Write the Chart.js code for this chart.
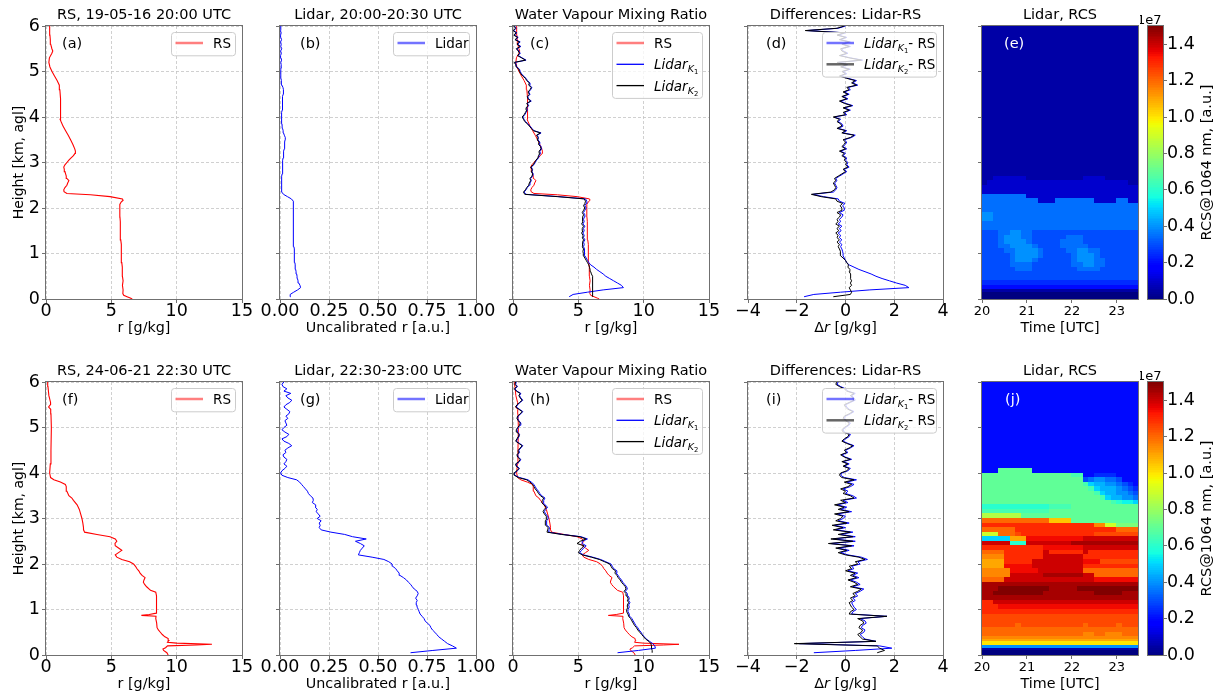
<!DOCTYPE html>
<html><head><meta charset="utf-8">
<script src="https://cdn.jsdelivr.net/npm/chart.js"></script>
<style>
html,body{margin:0;padding:0;background:#fff;}
body{width:1220px;height:700px;position:relative;overflow:hidden;}
canvas{position:absolute;}
</style></head><body>
<script>
// ---------------- DATA ----------------
const LIDAR_H = Array.from({length:120}, (_, i) => Math.round((i + 1) * 5) / 100); // 0.05 .. 6.00 km

// Row 1 (19-05-16)
const RS1_H = [0,0.02,0.05,0.08,0.12,0.2,0.3,0.4,0.5,0.6,0.7,0.8,0.9,1.0,1.1,1.2,1.3,1.4,1.5,1.6,1.7,1.8,1.9,2.0,2.08,2.13,2.17,2.2,2.25,2.29,2.32,2.36,2.4,2.45,2.5,2.55,2.6,2.65,2.7,2.75,2.8,2.85,2.9,2.95,3.0,3.05,3.1,3.15,3.2,3.25,3.3,3.4,3.5,3.6,3.7,3.8,3.9,3.95,4.0,4.2,4.4,4.6,4.7,4.8,4.9,5.0,5.1,5.2,5.3,5.4,5.45,5.5,5.6,5.7,5.8,5.9,6.0];
const RS1_R = [6.6,6.45,6.2,5.95,5.88,5.9,5.85,5.9,5.85,5.86,5.82,5.8,5.78,5.76,5.78,5.74,5.72,5.7,5.7,5.68,5.67,5.66,5.65,5.64,5.66,5.75,5.9,5.85,4.9,3.4,1.6,1.38,1.36,1.45,1.6,1.66,1.75,1.6,1.55,1.5,1.45,1.4,1.36,1.45,1.6,1.75,1.92,2.1,2.22,2.25,2.2,2.05,1.88,1.7,1.5,1.3,1.15,1.08,1.12,1.1,1.12,1.06,1.02,0.85,0.65,0.46,0.3,0.22,0.26,0.45,0.52,0.45,0.36,0.33,0.3,0.28,0.28];
const LIDAR1_UNCAL = [
0.055,0.052,0.070,0.090,0.105,0.102,0.096,0.092,0.089,0.087,
0.085,0.082,0.080,0.078,0.077,0.076,0.075,0.074,0.073,0.073,
0.072,0.072,0.071,0.071,0.070,0.070,0.069,0.069,0.068,0.068,
0.068,0.067,0.067,0.067,0.067,0.067,0.067,0.067,0.068,0.068,
0.068,0.069,0.068,0.058,0.038,0.018,0.009,0.007,0.007,0.008,
0.008,0.009,0.010,0.010,0.011,0.012,0.012,0.013,0.014,0.014,
0.015,0.016,0.017,0.018,0.020,0.022,0.022,0.024,0.025,0.026,
0.027,0.022,0.018,0.016,0.013,0.011,0.010,0.008,0.007,0.007,
0.009,0.010,0.011,0.011,0.012,0.012,0.013,0.014,0.015,0.016,
0.017,0.018,0.015,0.010,0.008,0.006,0.005,0.004,0.004,0.003,
0.005,0.007,0.006,0.004,0.008,0.005,0.003,0.007,0.003,0.009,
0.004,0.006,0.003,0.008,0.004,0.003,0.006,0.002,0.005,0.003];
const LIDAR1_K1 = [
4.3,4.6,5.7,6.9,8.45,8.3,8.0,7.7,7.4,7.1,
6.9,6.65,6.4,6.2,5.95,5.8,5.7,5.6,5.5,5.47,
5.45,5.5,5.4,5.45,5.4,5.5,5.4,5.45,5.35,5.45,
5.4,5.5,5.35,5.45,5.4,5.45,5.5,5.4,5.5,5.6,
5.5,5.6,5.65,5.55,3.5,1.0,0.85,1.0,1.1,1.25,
1.3,1.4,1.35,1.5,1.55,1.45,1.5,1.4,1.6,1.7,
1.8,1.95,2.0,2.1,2.05,2.2,2.15,2.0,2.05,1.9,
1.95,1.85,2.15,1.6,1.45,1.3,1.15,0.95,0.85,0.75,
0.9,1.0,1.1,1.05,1.2,1.1,1.4,1.2,1.15,1.3,
1.2,1.35,1.45,1.25,1.3,1.1,1.0,0.8,0.65,0.55,
0.5,0.3,0.25,0.15,1.0,0.7,0.4,0.55,0.45,0.3,
0.6,0.35,0.55,0.2,0.4,0.1,0.3,0.05,0.25,0.1];
const LIDAR1_K2 = [
6.1,6.1,6.1,6.1,6.1,6.1,6.1,6.1,6.08,6.05,
6.0,5.95,5.9,5.85,5.8,5.7,5.6,5.5,5.4,5.38,
5.35,5.4,5.3,5.35,5.3,5.4,5.3,5.35,5.25,5.35,
5.3,5.4,5.25,5.35,5.3,5.35,5.4,5.3,5.4,5.5,
5.4,5.5,5.55,5.45,3.4,0.9,0.8,0.95,1.05,1.2,
1.25,1.35,1.3,1.45,1.5,1.4,1.45,1.35,1.55,1.65,
1.75,1.9,1.95,2.05,2.0,2.15,2.1,1.95,2.0,1.85,
1.9,1.8,2.1,1.55,1.4,1.25,1.1,0.9,0.8,0.7,
0.85,0.95,1.05,1.0,1.15,1.05,1.35,1.15,1.1,1.25,
1.15,1.3,1.4,1.2,1.25,1.05,0.95,0.75,0.6,0.5,
0.45,0.25,0.2,0.1,0.95,0.65,0.35,0.5,0.4,0.25,
0.55,0.3,0.5,0.15,0.35,0.05,0.25,0.0,0.2,0.05];
const DIFF1_K1 = [
-1.7,-1.3,-0.2,1.0,2.6,2.45,2.1,1.8,1.5,1.25,
1.05,0.8,0.55,0.35,0.15,0.05,0.0,-0.05,-0.1,-0.1,
-0.12,-0.15,-0.2,-0.15,-0.25,-0.15,-0.25,-0.2,-0.3,-0.18,
-0.25,-0.15,-0.3,-0.2,-0.25,-0.15,-0.1,-0.25,-0.05,-0.05,
-0.12,-0.02,-0.25,-0.3,-0.9,-1.35,-0.5,-0.4,-0.35,-0.4,
-0.45,-0.35,-0.4,-0.25,-0.1,0.05,-0.05,0.15,0.05,0.1,
0.0,0.05,-0.1,0.0,-0.2,0.05,-0.1,0.0,0.05,-0.05,
0.25,0.4,-0.1,0.05,-0.3,-0.1,-0.15,-0.3,-0.2,-0.45,
0.05,-0.05,0.2,-0.05,0.3,0.0,-0.2,0.1,-0.1,0.15,
-0.05,0.2,0.1,0.5,0.3,0.45,0.1,-0.2,0.05,-0.1,
0.2,-0.15,0.1,-0.3,0.7,0.2,-0.2,0.1,-0.1,-0.15,
0.2,-0.1,0.2,-0.2,0.05,-0.3,0.0,-1.6,-0.3,0.0];
const DIFF1_K2 = [
-0.5,0.2,0.25,0.2,0.15,0.25,0.2,0.25,0.2,0.2,
0.22,0.15,0.18,0.1,0.12,0.05,0.0,-0.1,-0.2,-0.2,
-0.22,-0.25,-0.3,-0.25,-0.35,-0.25,-0.35,-0.3,-0.4,-0.28,
-0.35,-0.25,-0.4,-0.3,-0.35,-0.25,-0.2,-0.35,-0.15,-0.15,
-0.22,-0.12,-0.35,-0.4,-1.0,-1.4,-0.6,-0.45,-0.4,-0.45,
-0.5,-0.4,-0.45,-0.3,-0.15,0.0,-0.1,0.1,0.0,0.05,
-0.05,0.0,-0.15,-0.05,-0.25,0.0,-0.15,-0.05,0.0,-0.1,
0.2,0.35,-0.15,0.0,-0.35,-0.15,-0.2,-0.35,-0.25,-0.5,
0.0,-0.1,0.15,-0.1,0.25,-0.05,-0.25,0.05,-0.15,0.1,
-0.1,0.15,0.05,0.45,0.25,0.4,0.05,-0.25,0.0,-0.15,
0.15,-0.2,0.05,-0.35,0.65,0.15,-0.25,0.05,-0.15,-0.2,
0.15,-0.15,0.15,-0.25,0.0,-0.35,-0.05,-1.65,-0.35,-0.05];

// Row 2 (24-06-21)
const RS2_H = [0,0.05,0.1,0.13,0.16,0.2,0.22,0.235,0.26,0.28,0.32,0.36,0.4,0.45,0.5,0.55,0.6,0.7,0.8,0.85,0.87,0.89,0.92,1.0,1.1,1.2,1.3,1.38,1.42,1.5,1.55,1.6,1.65,1.7,1.75,1.8,1.85,1.9,1.95,2.0,2.05,2.1,2.15,2.2,2.25,2.3,2.35,2.4,2.45,2.5,2.55,2.6,2.65,2.7,2.75,2.8,2.9,3.0,3.1,3.2,3.3,3.4,3.45,3.5,3.6,3.7,3.75,3.8,3.85,3.9,4.0,4.2,4.5,5.0,5.3,5.4,5.45,5.5,5.55,5.7,5.9,6.0];
const RS2_R = [9.35,9.25,9.0,8.95,9.15,9.3,11.5,12.7,10.0,9.3,9.4,9.35,9.1,8.9,8.75,8.6,8.5,8.47,8.4,8.42,7.3,7.9,8.45,8.45,8.45,8.48,8.45,8.4,8.0,7.7,7.55,7.45,7.5,7.58,7.35,7.2,7.1,6.95,6.85,6.7,6.4,5.8,5.42,5.3,5.55,5.8,5.55,5.3,5.28,5.42,5.3,4.9,3.9,2.95,2.88,2.87,2.82,2.75,2.65,2.55,2.38,2.1,1.98,1.75,1.6,1.55,1.48,1.1,0.6,0.35,0.28,0.33,0.38,0.41,0.38,0.36,0.2,0.33,0.35,0.22,0.15,0.13];
const LIDAR2_UNCAL = [
0.666,0.78,0.90,0.88,0.855,0.84,0.825,0.81,0.80,0.79,
0.778,0.77,0.765,0.752,0.74,0.735,0.725,0.715,0.71,0.706,
0.70,0.698,0.695,0.70,0.692,0.70,0.705,0.70,0.685,0.675,
0.667,0.655,0.645,0.63,0.612,0.608,0.598,0.59,0.575,0.572,
0.555,0.53,0.47,0.40,0.405,0.41,0.42,0.43,0.41,0.385,
0.44,0.37,0.33,0.26,0.21,0.20,0.205,0.20,0.21,0.19,
0.205,0.195,0.185,0.19,0.18,0.182,0.165,0.17,0.168,0.155,
0.145,0.14,0.13,0.12,0.11,0.10,0.085,0.04,0.01,0.003,
0.01,0.025,0.035,0.02,0.03,0.035,0.02,0.015,0.03,0.025,
0.04,0.06,0.045,0.02,0.01,0.035,0.045,0.025,0.01,0.02,
0.035,0.03,0.025,0.04,0.03,0.045,0.05,0.035,0.02,0.03,
0.05,0.06,0.04,0.03,0.055,0.02,0.035,0.015,0.01,0.02];
const LIDAR2_K1 = [
8.0,9.6,10.9,10.85,10.7,10.45,10.2,10.05,9.9,9.8,
9.65,9.55,9.4,9.3,9.2,9.1,8.95,8.9,8.8,8.8,
8.9,8.85,8.95,8.85,8.9,8.8,8.75,8.6,8.75,8.7,
8.55,8.4,8.3,8.15,8.05,7.9,7.95,7.7,7.6,7.5,
7.1,6.7,6.1,5.4,5.1,5.25,5.4,5.6,5.3,5.3,
5.7,5.2,3.8,2.7,2.75,2.8,2.6,2.55,2.6,2.7,
2.65,2.5,2.4,2.5,2.65,2.45,2.3,2.35,2.45,2.2,
2.05,1.95,1.8,1.7,1.6,1.4,1.15,0.5,0.15,0.12,
0.35,0.5,0.3,0.25,0.5,0.6,0.4,0.35,0.5,0.45,
0.6,0.75,0.5,0.25,0.35,0.45,0.5,0.35,0.3,0.4,
0.55,0.6,0.45,0.35,0.4,0.6,0.75,0.5,0.25,0.35,
0.55,0.75,0.6,0.5,0.6,0.3,0.15,0.35,0.2,0.25];
const LIDAR2_K2 = [
10.65,10.65,10.6,10.6,10.55,10.4,10.15,10.0,9.85,9.7,
9.55,9.45,9.3,9.2,9.1,9.0,8.85,8.8,8.7,8.7,
8.8,8.75,8.85,8.75,8.8,8.7,8.65,8.5,8.65,8.6,
8.45,8.3,8.2,8.05,7.95,7.8,7.85,7.6,7.5,7.4,
7.0,6.6,6.0,5.3,5.0,5.1,5.25,5.45,4.9,5.15,
5.6,5.1,3.7,2.6,2.65,2.7,2.5,2.45,2.5,2.6,
2.55,2.4,2.3,2.4,2.55,2.35,2.2,2.25,2.35,2.1,
1.95,1.85,1.7,1.6,1.5,1.3,1.05,0.4,0.1,0.08,
0.3,0.45,0.25,0.2,0.45,0.55,0.35,0.3,0.45,0.4,
0.55,0.7,0.45,0.2,0.3,0.4,0.45,0.3,0.25,0.35,
0.5,0.55,0.4,0.3,0.35,0.55,0.7,0.45,0.2,0.3,
0.5,0.7,0.55,0.45,0.55,0.25,0.1,0.3,0.15,0.2];
const DIFF2_K1 = [
-1.3,0.4,1.9,1.4,-1.9,1.25,0.8,0.7,0.6,0.75,
0.8,0.65,0.7,0.85,0.8,0.6,1.7,0.25,0.3,0.45,
0.35,0.3,0.25,0.4,0.3,0.5,0.4,0.6,0.75,0.3,
0.6,0.45,0.2,0.55,0.3,0.5,0.1,0.35,0.25,0.6,
0.5,0.9,0.65,0.1,-0.2,0.15,-0.3,0.35,-0.6,0.4,
-0.5,0.4,-0.2,0.3,-0.4,0.0,-0.45,0.15,-0.3,-0.1,
0.0,-0.35,0.25,-0.2,0.05,-0.35,0.1,-0.1,0.45,0.3,
0.0,0.1,-0.1,0.2,0.35,0.05,0.45,-0.05,-0.2,-0.15,
0.1,0.2,-0.05,0.15,-0.1,0.25,0.0,-0.15,0.1,0.0,
0.2,0.35,0.1,-0.1,0.0,0.15,0.2,-0.05,-0.1,0.0,
0.15,0.2,0.05,-0.05,0.0,0.2,0.35,0.15,0.05,0.0,
0.2,0.4,0.35,0.25,0.4,0.1,0.0,-0.2,-0.35,-0.3];
const DIFF2_K2 = [
1.3,1.6,1.4,1.3,-2.1,1.25,0.7,0.6,0.5,0.65,
0.7,0.55,0.6,0.75,0.7,0.5,1.7,0.15,0.2,0.35,
0.25,0.2,0.15,0.3,0.2,0.4,0.3,0.5,0.65,0.2,
0.5,0.35,0.1,0.45,0.2,0.4,0.0,0.25,0.15,0.5,
0.4,0.8,0.55,0.0,-0.3,0.05,-0.4,0.25,-0.7,0.3,
-0.6,0.3,-0.3,0.2,-0.5,-0.1,-0.55,0.05,-0.4,-0.2,
-0.1,-0.45,0.15,-0.3,-0.05,-0.45,0.0,-0.2,0.35,0.2,
-0.1,0.0,-0.2,0.1,0.25,-0.05,0.35,-0.15,-0.25,-0.2,
0.05,0.15,-0.1,0.1,-0.15,0.2,-0.05,-0.2,0.05,-0.05,
0.15,0.3,0.05,-0.15,-0.05,0.1,0.15,-0.1,-0.15,-0.05,
0.1,0.15,0.0,-0.1,-0.05,0.15,0.3,0.1,0.0,-0.05,
0.15,0.35,0.3,0.2,0.35,0.05,-0.05,-0.25,-0.4,-0.35];

// Heatmaps: RCS in units of 0.05e7 per character (base-36 digit), rows listed top (5.9-6.0 km) to bottom (0-0.1 km)
const TIME_EDGES = [20,20.125,20.25,20.375,20.5,20.625,20.75,20.875,21,21.125,21.25,21.375,21.5,21.625,21.75,21.875,22,22.125,22.25,22.375,22.5,22.625,22.75,22.875,23,23.125,23.25,23.375,23.5];
const H_EDGES = [0,0.1,0.15,0.2,0.25,0.3,0.35,0.4,0.5,0.6,0.7,0.8,0.9,1.0,1.1,1.2,1.3,1.4,1.5,1.6,1.7,1.8,1.9,2.0,2.1,2.2,2.3,2.4,2.5,2.6,2.7,2.8,2.9,3.0,3.1,3.2,3.3,3.4,3.5,3.6,3.7,3.8,3.9,4.0,4.1,4.2,4.3,4.4,4.5,4.6,4.7,4.8,4.9,5.0,5.1,5.2,5.3,5.4,5.5,5.6,5.7,5.8,5.9,6.0];
const RCS_E_ROWS = [
"1111111111111111111111111111","1111111111111111111111111111","1111111111111111111111111111",
"1111111111111111111111111111","1111111111111111111111111111","1111111111111111111111111111",
"1111111111111111111111111111","1111111111111111111111111111","1111111111111111111111111111",
"1111111111111111111111111111","1111111111111111111111111111","1111111111111111111111111111",
"1111111111111111111111111111","1111111111111111111111111111","1111111111111111111111111111",
"1111111111111111111111111111","1111111111111111111111111111","1111111111111111111111111111",
"1111111111111111111111111111","1111111111111111111111111111","1111111111111111111111111111",
"1111111111111111111111111111","1111111111111111111111111111","1111111111111111111111111111",
"1111111111111111111111111111","1111111111111111111111111111","1111111111111111111111111111",
"1111111111111111111111111111","1111111111111111111111111111","1111111111111111111111111111",
"1111111111111111111111111111","1111111111111111111111111111","1111111111111111111111111111",
"1122222211111111112222111111","1222222222222222222222222211","2222222222222222222222222222",
"2222222222222222222222222222",
"7777777722222222222222222222",
"7777777777222777777722227722",
"7777777777777777777777777777",
"7777777777777777777777777777",
"8877777777777777777777777777",
"8877777777777777777777777777",
"7777777777777777777777777777",
"7777777777777777777777777777",
"6667788776666666666666666666",
"6667888776666667776666666666",
"6667888876666677776666666666",
"6667788887666677777666666666",
"6666778888766667788776666666",
"6666678888766666788876666666",
"6666678887666666788877666666",
"6666677776666666778877666666",
"6666667776666666677776666666",
"6666666666666666666666666666",
"6666666666666666666666666666",
"5555555555555555555555555555",
"5555555555555555555555555555",
"4444444444444444444444444444",
"4444444444444444444444444444",
"1111111111111111111111111111",
"0000000000000000000000000000",
"0000000000000000000000000000"];
const RCS_J_ROWS = [
"4444444444444444444444444444","4444444444444444444444444444","4444444444444444444444444444",
"4444444444444444444444444444","4444444444444444444444444444","4444444444444444444444444444",
"4444444444444444444444444444","4444444444444444444444444444","4444444444444444444444444444",
"4444444444444444444444444444","4444444444444444444444444444","4444444444444444444444444444",
"4444444444444444444444444444","4444444444444444444444444444","4444444444444444444444444444",
"4444444444444444444444444444","4444444444444444444444444444","4444444444444444444444444444",
"4444444444444444444444444444",
"444eeeeee4444444444444444444",
"eeeeeeeeeeeeeeeedd4455554444",
"eeeeeeeeeeeeeeeeee6788776444",
"eeeeeeeeeeeeeeeeeeda99887654",
"eeeeeeeeeeeeeeeeeeeda9998765",
"eeeeeeeeeeeeeeeeeeeeda998876",
"eeeeeeeeeeeeeeeeeeeeeda99887",
"eeeeeeeeeeeeeeeeeeeeeeedcbba",
"ccccccccccccddddeeeeeeeeeeee",
"ddddddddddddeeeeeeeeeeeeeeee",
"hhhhhhheeeeeeeeeeeeeeeeeeeee",
"oooooooooooolllleeeeeeeeeeee",
"qqqqqqqqqqqqqqqqqqqqnniiffff",
"ooooooqqqqqqqqqqqqqqqqqqoooo",
"iiiooopqqqqqqqqqqqqqpppppppp",
"aaaaammmrrrrrrrrrrssssssssss",
"ssssscccsssssssstttttttttttt",
"qqqqqqqqqqqrrrrrrrssssssssss",
"ooooqqqqqqqsqqqqqqsqqqqqqqqq",
"nnnnqqqqqqqsssssssqqqqqqqqqq",
"mmmmqqqqqsssssssssrrrppppppp",
"mmmmrrrrrsssssssssqqqqqqqqqq",
"nnnnnrrrrrssssssssoooooooooo",
"nnnnnsssssstttttttssoooooooo",
"oooossssssssssssssssrrrrrrrr",
"tttttttttttttttttttttttttttt",
"tttuuuuuuuuutttttuuuuuuuuuuu",
"ttuuuuuuuuutttttttttuuuuuttt",
"tttttttttttttttttttttttttttt",
"qqssssssssssssssssssssssssss",
"qqqrrrrrrrrrrrrrrrrrrrrrrrrr",
"qqqqqqqqqqqqqqqqqqqqqqqqqqqq",
"pppppppppppppppppppppppppppp",
"pppppppppppppppppppppppppppp",
"ppppppopppppppppppopppppoppp",
"oooooooooooooooooooooooooooo",
"oooooooooooooooooonnoonnnooo",
"nnnnnnnnnnnnnnnnnnnnnnnnnnnn",
"mmmmmmmmmmmmmmmmmmmmmmmmmmmm",
"kkkkkkkkkkkkkkkkkkkkkkkkkkkk",
"kkkkkkkkkkkkkkkkkkkkkkkkkkkk",
"8888888888888888888888888888",
"1111111111111111111111111111",
"0000000000000000000000000000"];

// Tick values
const H_TICKS = [0,1,2,3,4,5,6];
const R_TICKS = [0,5,10,15];
const U_TICKS = [0,0.25,0.5,0.75,1.0];
const D_TICKS = [-4,-2,0,2,4];
const T_TICKS = [20,21,22,23];
const CB_TICKS = [0,0.2,0.4,0.6,0.8,1.0,1.2,1.4];

// ---------------- STYLE / HELPERS ----------------
const FONT = 'DejaVu Sans';
const GRID_COLOR = '#c4c4c4';
const AXIS_COLOR = '#707070';
const XAX_H = 38;
Chart.defaults.font.family = FONT;

function interp(pts, t){
  for (let i = 1; i < pts.length; i++) {
    if (t <= pts[i][0]) { const [t0,v0] = pts[i-1], [t1,v1] = pts[i]; return v0 + (v1-v0)*(t-t0)/(t1-t0); }
  }
  return pts[pts.length-1][1];
}
const JET_R=[[0,0],[0.35,0],[0.66,1],[0.89,1],[1,0.5]];
const JET_G=[[0,0],[0.125,0],[0.375,1],[0.64,1],[0.91,0],[1,0]];
const JET_B=[[0,0.5],[0.11,1],[0.34,1],[0.65,0],[1,0]];
function jet(t){
  t = Math.max(0, Math.min(1, t));
  return `rgb(${Math.round(interp(JET_R,t)*255)},${Math.round(interp(JET_G,t)*255)},${Math.round(interp(JET_B,t)*255)})`;
}
const NCOL = TIME_EDGES.length - 1;
const decodeRows = rows => rows.map(s => Array.from(s.padEnd(NCOL, s[s.length-1]).slice(0, NCOL), ch => parseInt(ch, 36) * 0.05));
const RCS_E = decodeRows(RCS_E_ROWS);
const RCS_J = decodeRows(RCS_J_ROWS);
const CB_MAX = 1.5;

const fmtInt = v => String(v);
const fmt2 = v => v.toFixed(2);
const fmtMinus = v => v < 0 ? '\u2212' + Math.abs(v) : String(v);

function lineDs(xs, hs, color, width, order){
  return {data: xs.map((v,i) => ({x: v, y: hs[i]})), borderColor: color, backgroundColor: color,
          borderWidth: width, pointRadius: 0, tension: 0, fill: false, order: order};
}

function drawRich(ctx, x, base, it){
  ctx.fillStyle = '#000';
  ctx.textBaseline = 'alphabetic';
  ctx.textAlign = 'left';
  if (it.math) {
    ctx.font = `italic 13.5px "${FONT}"`; ctx.fillText('Lidar', x, base); x += ctx.measureText('Lidar').width;
    ctx.font = `italic 9.5px "${FONT}"`; ctx.fillText('K', x, base + 3); x += ctx.measureText('K').width;
    ctx.font = `6.8px "${FONT}"`; ctx.fillText(it.math, x, base + 5); x += ctx.measureText(it.math).width;
    if (it.suffix) { ctx.font = `13.5px "${FONT}"`; ctx.fillText(it.suffix, x, base); }
  } else {
    ctx.font = `13.5px "${FONT}"`; ctx.fillText(it.text, x, base);
  }
}

function drawLegend(ctx, a, L){
  const n = L.items.length;
  const right = a.right - 7, top = a.top + 6, h = 2 + 21.3*n, left = right - L.w;
  ctx.save();
  ctx.beginPath();
  if (ctx.roundRect) ctx.roundRect(left + 0.5, top + 0.5, L.w, h, 3); else ctx.rect(left + 0.5, top + 0.5, L.w, h);
  ctx.fillStyle = 'rgba(255,255,255,0.8)'; ctx.fill();
  ctx.strokeStyle = '#cccccc'; ctx.lineWidth = 1; ctx.stroke();
  L.items.forEach((it, i) => {
    const cy = top + 11 + 21.3*i;
    ctx.beginPath(); ctx.strokeStyle = it.color; ctx.lineWidth = it.lw;
    ctx.moveTo(left + 4.5, cy); ctx.lineTo(left + 32, cy); ctx.stroke();
    drawRich(ctx, left + 42, cy + 5, it);
  });
  ctx.restore();
}

function drawHeat(chart, grid){
  const {ctx, chartArea: a, scales: {x, y}} = chart;
  ctx.save(); ctx.beginPath(); ctx.rect(a.left, a.top, a.width, a.height); ctx.clip();
  const nR = grid.length;
  for (let r = 0; r < nR; r++) {
    const hi = nR - 1 - r;
    const yb = y.getPixelForValue(H_EDGES[hi]), yt = y.getPixelForValue(H_EDGES[hi+1]);
    for (let c = 0; c < NCOL; c++) {
      const x0 = x.getPixelForValue(TIME_EDGES[c]), x1 = x.getPixelForValue(TIME_EDGES[c+1]);
      ctx.fillStyle = jet(grid[r][c] / CB_MAX);
      ctx.fillRect(Math.floor(x0), Math.floor(yt), Math.ceil(x1) - Math.floor(x0), Math.ceil(yb) - Math.floor(yt));
    }
  }
  ctx.restore();
}

const ROW_TOP = [0, 356];
const CANVAS_H = 26 + 273 + XAX_H;

function addCanvas(left, top, w, h){
  const c = document.createElement('canvas');
  c.width = w; c.height = h;
  c.style.left = left + 'px'; c.style.top = top + 'px';
  c.style.width = w + 'px'; c.style.height = h + 'px';
  document.body.appendChild(c);
  return c;
}

function makePanel(o){
  const width = o.yW + o.plotW + o.padR;
  const c = addCanvas(o.left, o.top, width, CANVAS_H);
  const deco = {
    id: 'deco',
    beforeDatasetsDraw(chart){ if (o.heat) drawHeat(chart, o.heat); },
    afterDatasetsDraw(chart){
      const {ctx, chartArea: a} = chart;
      ctx.save();
      ctx.strokeStyle = AXIS_COLOR; ctx.lineWidth = 1;
      ctx.strokeRect(a.left - 0.5, a.top - 0.5, a.width + 1, a.height + 1);
      if (o.legend) drawLegend(ctx, a, o.legend);
      ctx.fillStyle = o.letterColor || '#000';
      ctx.font = `14.5px "${FONT}"`; ctx.textBaseline = 'middle'; ctx.textAlign = 'left';
      ctx.fillText(o.letter, a.left + o.lx, a.top + 18);
      if (o.deltaLabel) {
        const parts = [['\u0394', ''], ['r', 'italic '], [' [g/kg]', '']];
        let tw = 0;
        parts.forEach(p => { ctx.font = `${p[1]}14.3px "${FONT}"`; tw += ctx.measureText(p[0]).width; });
        let x = (a.left + a.right)/2 - tw/2; const y = a.bottom + XAX_H - 8.6;
        ctx.fillStyle = '#000';
        parts.forEach(p => { ctx.font = `${p[1]}14.3px "${FONT}"`; ctx.fillText(p[0], x, y); x += ctx.measureText(p[0]).width; });
      }
      ctx.restore();
    }
  };
  return new Chart(c, {
    type: o.heat ? 'scatter' : 'line',
    data: {datasets: o.heat ? [{data: []}] : o.datasets},
    options: {
      responsive: false, animation: false, devicePixelRatio: 1,
      layout: {padding: {left: 0, right: o.padR, top: 0, bottom: 0}, autoPadding: false},
      events: [],
      plugins: {
        legend: {display: false}, tooltip: {enabled: false},
        title: {display: true, text: o.title, fullSize: false, align: 'center', color: '#000',
                font: {family: FONT, size: 14.5, weight: 'normal', lineHeight: 1.2}, padding: {top: 6.3, bottom: 2.3}}
      },
      scales: {
        x: {
          type: 'linear', position: 'bottom', min: o.xr[0], max: o.xr[1],
          afterBuildTicks: s => { s.ticks = o.xt.map(v => ({value: v})); },
          afterFit: s => { s.height = XAX_H; s.paddingLeft = 0; s.paddingRight = 0; },
          ticks: {font: {family: FONT, size: o.heat ? 13 : 17.5, lineHeight: 1}, color: '#000', padding: o.heat ? 2 : 0,
                  maxRotation: 0, minRotation: 0, autoSkip: false, callback: v => o.xf(v)},
          grid: {display: true, drawOnChartArea: !o.heat, color: GRID_COLOR, lineWidth: 0.8, drawTicks: true,
                 tickLength: 4, tickColor: AXIS_COLOR, tickWidth: 1, tickBorderDash: []},
          border: {display: false, dash: [3, 2]},
          title: {display: !!o.xtitle, text: o.xtitle || '', color: '#000',
                  font: {family: FONT, size: 14.3, lineHeight: 1.2}, padding: {top: 0, bottom: 0}}
        },
        y: {
          type: 'linear', position: 'left', min: 0, max: 6,
          afterBuildTicks: s => { s.ticks = H_TICKS.map(v => ({value: v})); },
          afterFit: s => { s.width = o.yW; s.paddingTop = 0; s.paddingBottom = 0; },
          ticks: {display: !!o.ylab, font: {family: FONT, size: 17.5, lineHeight: 1}, color: '#000', padding: 2,
                  autoSkip: false, callback: v => String(v)},
          grid: {display: true, drawOnChartArea: !o.heat, color: GRID_COLOR, lineWidth: 0.8, drawTicks: true,
                 tickLength: 4, tickColor: AXIS_COLOR, tickWidth: 1, tickBorderDash: []},
          border: {display: false, dash: [3, 2]},
          title: {display: !!o.ylab, text: 'Height [km, agl]', color: '#000',
                  font: {family: FONT, size: 14, lineHeight: 1.2}, padding: {top: 10.6, bottom: 0}}
        }
      }
    },
    plugins: [deco]
  });
}

function makeColorbar(top){
  const c = addCanvas(1140, top, 80, CANVAS_H);
  const cb = {
    id: 'cbar',
    beforeDatasetsDraw(chart){
      const {ctx, chartArea: a, scales: {y}} = chart;
      ctx.save();
      for (let v = 0; v < CB_MAX; v += 0.01) {
        const y0 = y.getPixelForValue(v), y1 = y.getPixelForValue(Math.min(v + 0.01, CB_MAX));
        ctx.fillStyle = jet((v + 0.005) / CB_MAX);
        ctx.fillRect(a.left, Math.floor(y1), a.width, Math.ceil(y0) - Math.floor(y1));
      }
      ctx.restore();
    },
    afterDatasetsDraw(chart){
      const {ctx, chartArea: a} = chart;
      ctx.save();
      ctx.strokeStyle = AXIS_COLOR; ctx.lineWidth = 1;
      ctx.strokeRect(a.left - 0.5, a.top - 0.5, a.width + 1, a.height + 1);
      ctx.fillStyle = '#000';
      ctx.font = `13px "${FONT}"`; ctx.textAlign = 'left'; ctx.textBaseline = 'alphabetic';
      ctx.fillText('1e7', a.left - 11, a.top - 2);
      ctx.translate(a.right + 44, (a.top + a.bottom)/2);
      ctx.rotate(-Math.PI/2);
      ctx.font = `14.5px "${FONT}"`; ctx.textAlign = 'center'; ctx.textBaseline = 'middle';
      ctx.fillText('RCS@1064 nm, [a.u.]', 0, 0);
      ctx.restore();
    }
  };
  return new Chart(c, {
    type: 'scatter',
    data: {datasets: [{data: []}]},
    options: {
      responsive: false, animation: false, devicePixelRatio: 1, events: [],
      layout: {padding: {left: 8, right: 0, top: 26, bottom: XAX_H}, autoPadding: false},
      plugins: {legend: {display: false}, tooltip: {enabled: false}},
      scales: {
        x: {display: false, min: 0, max: 1},
        y: {
          position: 'right', min: 0, max: CB_MAX,
          afterBuildTicks: s => { s.ticks = CB_TICKS.map(v => ({value: v})); },
          afterFit: s => { s.width = 57; s.paddingTop = 0; s.paddingBottom = 0; },
          ticks: {font: {family: FONT, size: 17.5, lineHeight: 1}, color: '#000', padding: 0, autoSkip: false,
                  callback: v => v.toFixed(1)},
          grid: {drawOnChartArea: false, drawTicks: true, tickLength: 4, tickColor: AXIS_COLOR, tickWidth: 1},
          border: {display: false}
        }
      }
    },
    plugins: [cb]
  });
}

const LEG_RS = {w: 64, items: [{text: 'RS', color: 'rgba(255,0,0,0.5)', lw: 2.5}]};
const LEG_LIDAR = {w: 76, items: [{text: 'Lidar', color: 'rgba(0,0,255,0.55)', lw: 2.5}]};
const LEG_WV = {w: 90, items: [{text: 'RS', color: 'rgba(255,0,0,0.5)', lw: 2.5},
                               {math: '1', color: '#0000ff', lw: 1.3}, {math: '2', color: '#000000', lw: 1.3}]};
const LEG_DIFF = {w: 114, items: [{math: '1', suffix: '- RS', color: 'rgba(0,0,255,0.55)', lw: 2.5},
                                  {math: '2', suffix: '- RS', color: 'rgba(0,0,0,0.6)', lw: 2.5}]};

const ROWS = [
  {letters: ['(a)','(b)','(c)','(d)','(e)'], rsTitle: 'RS, 19-05-16 20:00 UTC', lidTitle: 'Lidar, 20:00-20:30 UTC',
   rsH: RS1_H, rsR: RS1_R, unc: LIDAR1_UNCAL, k1: LIDAR1_K1, k2: LIDAR1_K2, d1: DIFF1_K1, d2: DIFF1_K2, heat: RCS_E, lxj: 22},
  {letters: ['(f)','(g)','(h)','(i)','(j)'], rsTitle: 'RS, 24-06-21 22:30 UTC', lidTitle: 'Lidar, 22:30-23:00 UTC',
   rsH: RS2_H, rsR: RS2_R, unc: LIDAR2_UNCAL, k1: LIDAR2_K1, k2: LIDAR2_K2, d1: DIFF2_K1, d2: DIFF2_K2, heat: RCS_J, lxj: 23}
];

ROWS.forEach((R, ri) => {
  const top = ROW_TOP[ri];
  makePanel({left: 0, top, yW: 46, plotW: 196, padR: 14, title: R.rsTitle, xr: [0,15], xt: R_TICKS, xf: fmtInt,
             xtitle: 'r [g/kg]', ylab: true, letter: R.letters[0], lx: 16, legend: LEG_RS,
             datasets: [lineDs(R.rsR, R.rsH, '#ff0000', 1.1, 1)]});
  makePanel({left: 256, top, yW: 24, plotW: 196, padR: 22, title: R.lidTitle, xr: [0,1], xt: U_TICKS, xf: fmt2,
             xtitle: 'Uncalibrated r [a.u.]', letter: R.letters[1], lx: 20, legend: LEG_LIDAR,
             datasets: [lineDs(R.unc, LIDAR_H, '#0000ff', 1, 1)]});
  makePanel({left: 489, top, yW: 24, plotW: 196, padR: 22, title: 'Water Vapour Mixing Ratio', xr: [0,15], xt: R_TICKS, xf: fmtInt,
             xtitle: 'r [g/kg]', letter: R.letters[2], lx: 17, legend: LEG_WV,
             datasets: [lineDs(R.rsR, R.rsH, '#ff0000', 1, 3), lineDs(R.k1, LIDAR_H, '#0000ff', 1, 2), lineDs(R.k2, LIDAR_H, '#000000', 1, 1)]});
  makePanel({left: 724, top, yW: 24, plotW: 195, padR: 20, title: 'Differences: Lidar-RS', xr: [-4,4], xt: D_TICKS, xf: fmtMinus,
             xtitle: null, deltaLabel: true, letter: R.letters[3], lx: 18, legend: LEG_DIFF,
             datasets: [lineDs(R.d1, LIDAR_H, '#0000ff', 1, 2), lineDs(R.d2, LIDAR_H, '#000000', 1, 1)]});
  makePanel({left: 966, top, yW: 16, plotW: 156, padR: 4, title: 'Lidar, RCS', xr: [20, 23.47], xt: T_TICKS, xf: fmtInt,
             xtitle: 'Time [UTC]', letter: R.letters[4], letterColor: '#ffffff', lx: R.lxj, heat: R.heat});
  makeColorbar(top);
});
</script>
</body></html>
